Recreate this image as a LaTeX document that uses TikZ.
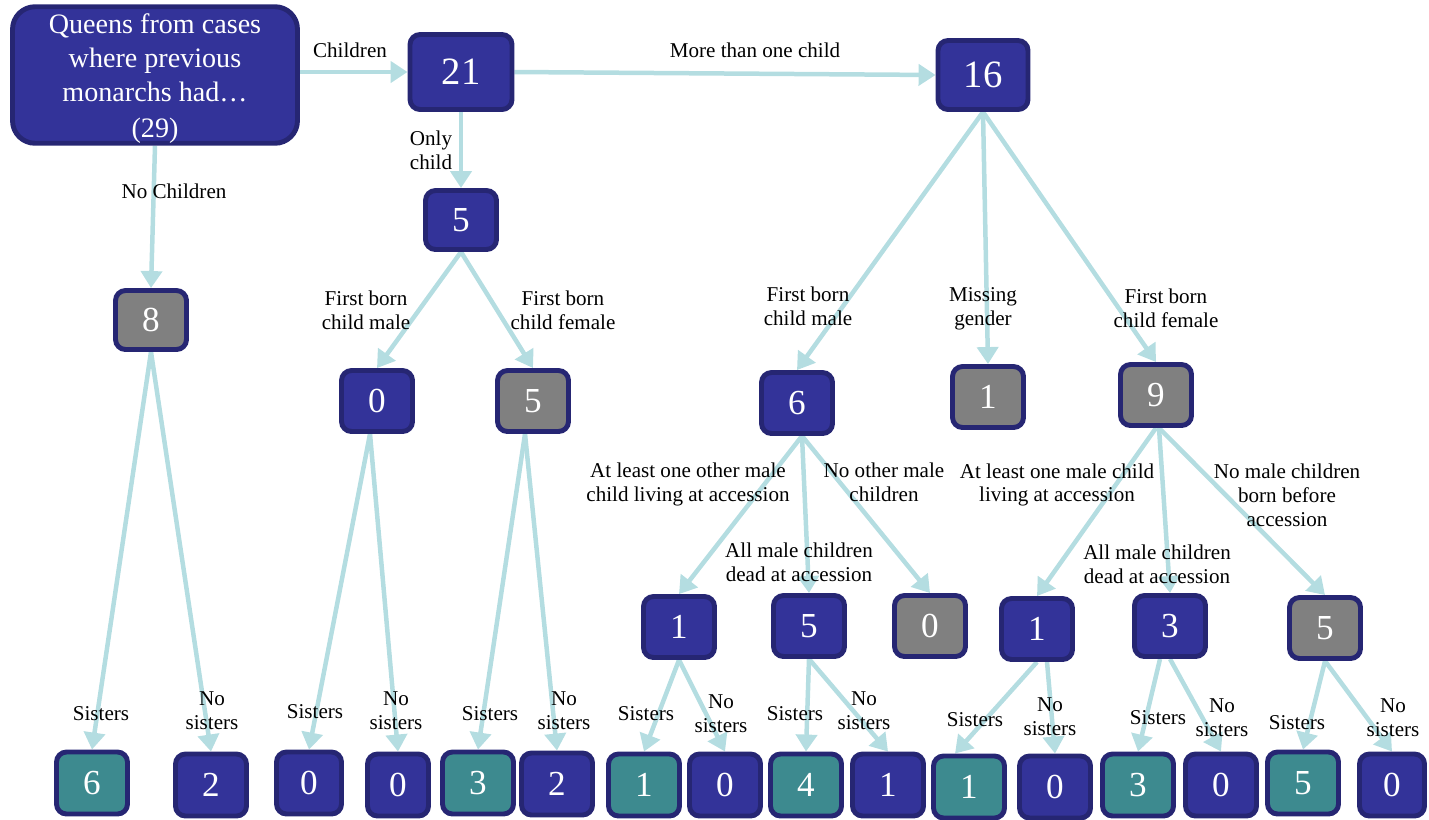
\documentclass[tikz,border=0pt]{standalone}
\usepackage{fontspec}
\setmainfont{Liberation Serif}
\usetikzlibrary{arrows.meta,backgrounds}
\definecolor{qblue}{HTML}{333399}
\definecolor{qnavy}{HTML}{262673}
\definecolor{qgrey}{HTML}{808080}
\definecolor{qteal}{HTML}{3D8A8F}
\definecolor{qarrow}{HTML}{B4DDE1}
\tikzset{
  bx/.style={draw=qnavy, line width=2.8pt, rounded corners=0.2cm, fill=qblue, text=white,
    font=\fontsize{20}{22}\selectfont, inner sep=0pt, minimum width=1.42cm, minimum height=1.22cm},
  gbx/.style={bx, fill=qgrey},
  tbx/.style={bx, fill=qteal},
  arr/.style={draw=qarrow, line width=0.09cm, -{Triangle[length=0.34cm,width=0.42cm]}},
  lab/.style={align=center, font=\fontsize{12}{13.6}\selectfont, inner sep=0pt, text=black}
}
\begin{document}
\begin{tikzpicture}[x=0.02cm,y=-0.02cm]
\useasboundingbox (0,0) rectangle (1429,819);
% top level
\node[bx, minimum width=5.7cm, minimum height=2.6cm, rounded corners=0.45cm,
  font=\fontsize{16}{17.6}\selectfont, align=center] (root) at (155,75)
  {\rule{0pt}{15pt}Queens from cases\\[2pt]where previous\\[2pt]monarchs had…\\[2.5pt](29)};
\node[bx, minimum width=2.04cm, minimum height=1.5cm, font=\fontsize{22}{24}\selectfont] (n21) at (461,72) {21};
\node[bx, minimum width=1.8cm, minimum height=1.38cm, font=\fontsize{22}{24}\selectfont] (n16) at (983,75) {16};
\node[bx, minimum height=1.18cm] (n5) at (461,220) {5};
\node[gbx, minimum height=1.18cm] (n8) at (151,320) {8};
% level 3
\node[bx] (a0) at (377,401) {0};
\node[gbx] (a5) at (533,401) {5};
\node[bx] (a6) at (797,403) {6};
\node[gbx] (a1) at (988,397) {1};
\node[gbx] (a9) at (1156,395) {9};
% level 4
\node[bx] (b1) at (679,627) {1};
\node[bx] (b5) at (809,626) {5};
\node[gbx] (b0) at (930,626) {0};
\node[bx] (c1) at (1037,629) {1};
\node[bx] (c3) at (1170,626) {3};
\node[gbx] (c5) at (1325,628) {5};
% leaves
\node[tbx, minimum height=1.24cm] (l1) at (92,783) {6};
\node[bx, minimum height=1.24cm] (l2) at (211,785) {2};
\node[bx, minimum height=1.24cm, minimum width=1.3cm] (l3) at (309,783) {0};
\node[bx, minimum height=1.24cm, minimum width=1.22cm] (l4) at (398,785) {0};
\node[tbx, minimum height=1.24cm] (l5) at (478,783) {3};
\node[bx, minimum height=1.24cm] (l6) at (557,784) {2};
\node[tbx, minimum height=1.24cm] (l7) at (644,785) {1};
\node[bx, minimum height=1.24cm] (l8) at (725,785) {0};
\node[tbx, minimum height=1.24cm] (l9) at (806,785) {4};
\node[bx, minimum height=1.24cm] (l10) at (888,785) {1};
\node[tbx, minimum height=1.24cm] (l11) at (969,787) {1};
\node[bx, minimum height=1.24cm] (l12) at (1055,787) {0};
\node[tbx, minimum height=1.24cm] (l13) at (1138,785) {3};
\node[bx, minimum height=1.24cm] (l14) at (1221,785) {0};
\node[tbx, minimum height=1.24cm] (l15) at (1303,783) {5};
\node[bx, minimum height=1.24cm, minimum width=1.3cm] (l16) at (1392,785) {0};
% connectors
\begin{scope}[on background layer]
\draw[arr] (root.east |- n21.west) -- (n21.west);
\draw[arr] (n21.east) -- (n16.west);
\draw[arr] (n21.south) -- (n5.north);
\draw[arr] (root.south) -- (n8.north);
\draw[arr] (n8.south) -- (l1.north);
\draw[arr] (n8.south) -- (l2.north);
\draw[arr] (n5.south) -- (a0.north);
\draw[arr] (n5.south) -- (a5.north);
\draw[arr] ([xshift=-0.14cm]a0.south) -- (l3.north);
\draw[arr] ([xshift=-0.14cm]a0.south) -- (l4.north);
\draw[arr] ([xshift=-0.16cm]a5.south) -- (l5.north);
\draw[arr] ([xshift=-0.16cm]a5.south) -- (l6.north);
\draw[arr] (n16.south) -- (a6.north);
\draw[arr] (n16.south) -- (a1.north);
\draw[arr] (n16.south) -- (a9.north);
\draw[arr] ([xshift=0.1cm]a6.south) -- (b1.north);
\draw[arr] ([xshift=0.1cm]a6.south) -- (b5.north);
\draw[arr] ([xshift=0.1cm]a6.south) -- (b0.north);
\draw[arr] (a9.south) -- (c1.north);
\draw[arr] ([xshift=0.06cm]a9.south) -- (c3.north);
\draw[arr] ([xshift=0.06cm]a9.south) -- (c5.north);
\draw[arr] (b1.south) -- (l7.north);
\draw[arr] (b1.south) -- (l8.north);
\draw[arr] (b5.south) -- (l9.north);
\draw[arr] (b5.south) -- (l10.north);
\draw[arr] (c1.south) -- ([xshift=-0.28cm]l11.north);
\draw[arr] ([xshift=0.2cm]c1.south) -- (l12.north);
\draw[arr] ([xshift=-0.2cm]c3.south) -- (l13.north);
\draw[arr] (c3.south) -- (l14.north);
\draw[arr] (c5.south) -- (l15.north);
\draw[arr] (c5.south) -- (l16.north);
\end{scope}
% labels
\node[lab] (t1) at (350,50) {Children};
\node[lab] (t2) at (755,50) {More than one child};
\node[lab] (t3) at (431,150) {Only\\child};
\node[lab] (t4) at (174,191) {No Children};
\node[lab] (t5) at (366,310) {First born\\child male};
\node[lab] (t6) at (563,310) {First born\\child female};
\node[lab] (t7) at (808,306) {First born\\child male};
\node[lab] (t8) at (983,309) {Missing\\gender};
\node[lab] (t9) at (1166,308) {First born\\child female};
\node[lab] (t10) at (688,484) {At least one other male\\child living at accession};
\node[lab] (t11) at (884,482) {No other male\\children};
\node[lab] (t12) at (799,562) {All male children\\dead at accession};
\node[lab] (t13) at (1057,485) {At least one male child\\living at accession};
\node[lab] (t14) at (1287,495) {No male children\\born before\\accession};
\node[lab] (t15) at (1157,564) {All male children\\dead at accession};
% bottom labels
\node[lab] (s1) at (101,714) {Sisters};
\node[lab] (s2) at (212,711) {No\\sisters};
\node[lab] (s3) at (315,712) {Sisters};
\node[lab] (s4) at (396,711) {No\\sisters};
\node[lab] (s5) at (490,714) {Sisters};
\node[lab] (s6) at (564,711) {No\\sisters};
\node[lab] (s7) at (646,714) {Sisters};
\node[lab] (s8) at (721,714) {No\\sisters};
\node[lab] (s9) at (795,714) {Sisters};
\node[lab] (s10) at (864,711) {No\\sisters};
\node[lab] (s11) at (975,720) {Sisters};
\node[lab] (s12) at (1050,717) {No\\sisters};
\node[lab] (s13) at (1158,718) {Sisters};
\node[lab] (s14) at (1222,718) {No\\sisters};
\node[lab] (s15) at (1297,723) {Sisters};
\node[lab] (s16) at (1393,718) {No\\sisters};
\end{tikzpicture}
\end{document}
